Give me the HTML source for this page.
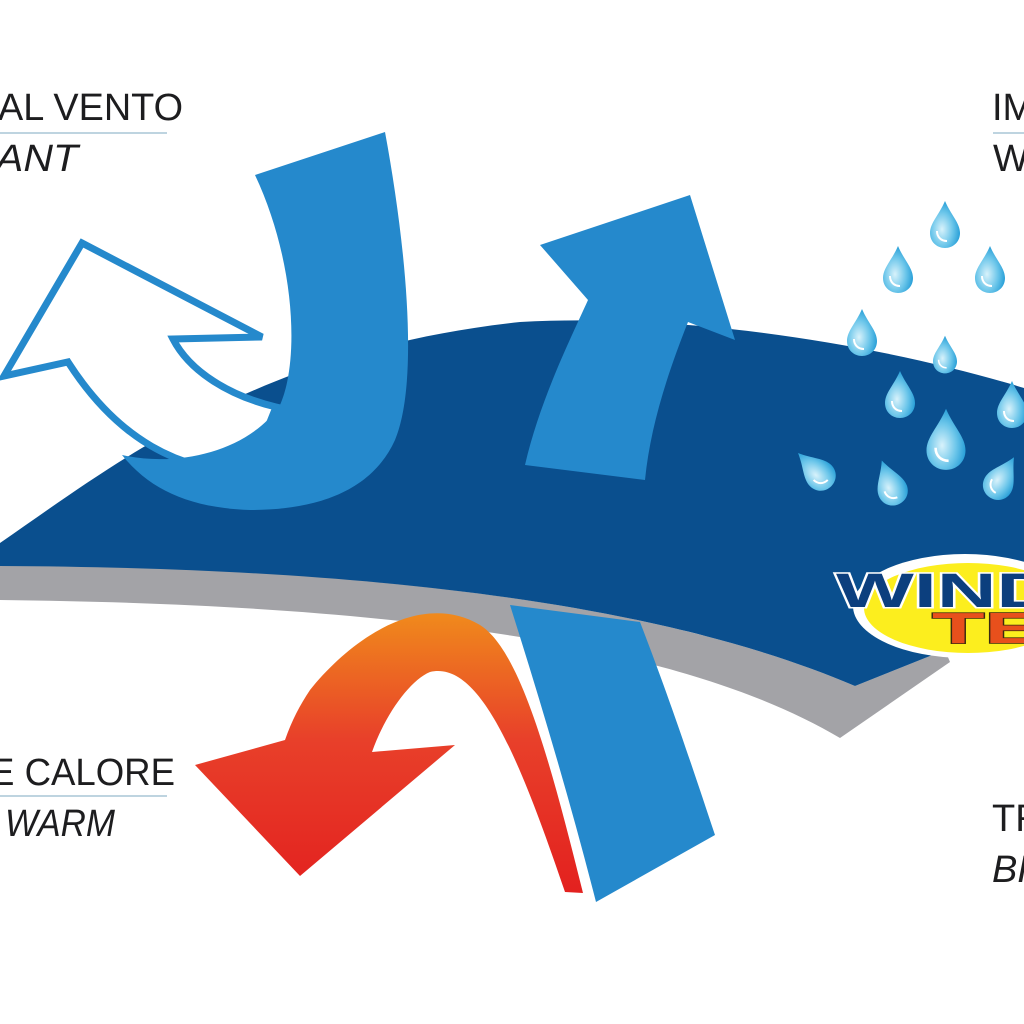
<!DOCTYPE html>
<html><head><style>
html,body{margin:0;padding:0;background:#fff;}
svg{display:block}
text{font-family:"Liberation Sans",sans-serif;fill:#1d1d1f}
</style></head><body>
<svg width="1024" height="1024" viewBox="0 0 1024 1024" xmlns="http://www.w3.org/2000/svg">
<defs>
<linearGradient id="rg" x1="0" y1="0" x2="0" y2="1">
<stop offset="0" stop-color="#f08a1c"/><stop offset="0.45" stop-color="#e8402a"/><stop offset="1" stop-color="#e3211f"/>
</linearGradient>
<radialGradient id="dg" cx="0.4" cy="0.6" r="0.6">
<stop offset="0" stop-color="#d8f2fb"/><stop offset="0.6" stop-color="#6cc6ea"/><stop offset="1" stop-color="#2aa0d8"/>
</radialGradient>
<g id="drop"><path d="M0,-24 C6,-10 15,-2 15,8 C15,17 8,23 0,23 C-8,23 -15,17 -15,8 C-15,-2 -6,-10 0,-24 Z" fill="url(#dg)"/><path d="M-8,6 C-8,12 -4,16 2,16" stroke="#fff" stroke-width="2" fill="none"/></g>
</defs>

<!-- text -->
<text x="-2" y="120" font-size="38" textLength="185" lengthAdjust="spacingAndGlyphs">AL VENTO</text>
<line x1="0" y1="133" x2="167" y2="133" stroke="#a9c6d6" stroke-width="1.5"/>
<text x="-4" y="171" font-size="38" font-style="italic" textLength="82" lengthAdjust="spacingAndGlyphs">ANT</text>
<text x="992" y="120" font-size="38">IM</text>
<line x1="993" y1="133" x2="1024" y2="133" stroke="#a9c6d6" stroke-width="1.5"/>
<text x="993" y="171" font-size="38">W</text>
<text x="-10" y="785" font-size="38" textLength="185" lengthAdjust="spacingAndGlyphs">E CALORE</text>
<line x1="0" y1="796" x2="167" y2="796" stroke="#a9c6d6" stroke-width="1.5"/>
<text x="5" y="836" font-size="38" font-style="italic" textLength="110" lengthAdjust="spacingAndGlyphs">WARM</text>
<text x="992" y="831" font-size="38">TR</text>
<text x="992" y="882" font-size="38" font-style="italic">BR</text>

<!-- fabric -->
<path d="M0,600 C450,605 700,655 840,738 L950,662 L945,650 L855,686 C700,620 450,568 0,565 Z" fill="#a3a3a7"/>
<path d="M0,543 C120,460 260,350 520,322 C700,312 900,350 1024,388 L1024,640 L940,652 L855,686 C700,620 450,568 0,566 Z" fill="#0a4f8e"/>

<!-- white arrow -->
<path d="M82,243 L262,337 L173,339 C190,372 230,396 276,407 L250,472 C180,472 118,440 68,362 L4,376 Z" fill="#fff" stroke="#2589cc" stroke-width="7" stroke-linejoin="miter"/>
<!-- J blue -->
<path d="M255,175 L385,132 C405,240 420,380 395,440 C370,495 310,510 250,510 C190,508 150,490 122,455 C180,468 250,450 280,405 C300,360 295,260 255,175 Z" fill="#2589cc"/>

<!-- up arrow -->
<path d="M525,465 C540,400 570,340 588,300 L540,245 L690,195 L735,340 L688,322 C665,380 650,430 645,480 Z" fill="#2589cc"/>

<!-- lower blue stream -->
<path d="M510,605 L640,622 C670,700 690,760 715,835 L596,902 C570,800 540,700 510,605 Z" fill="#2589cc"/>
<!-- red arrow -->
<path d="M583,893 C550,760 520,650 480,625 C420,590 350,640 310,690 C300,705 292,720 285,740 L195,765 L300,876 L455,745 L372,752 C385,715 410,680 430,672 C480,660 520,760 565,892 Z" fill="url(#rg)"/>

<!-- logo -->
<ellipse cx="965" cy="606" rx="112" ry="52" fill="#fff"/>
<ellipse cx="968" cy="608" rx="104" ry="45" fill="#fcee1e"/>
<text x="836" y="607" font-size="48" font-weight="bold" textLength="220" lengthAdjust="spacingAndGlyphs" style="fill:#0c3f7e;stroke:#fff;stroke-width:3;paint-order:stroke">WIND</text>
<text x="932" y="643" font-size="44" font-weight="bold" textLength="110" lengthAdjust="spacingAndGlyphs" style="fill:#e8501c;stroke:#3a2a10;stroke-width:1.5;paint-order:stroke">TE</text>

<!-- drops -->
<use href="#drop" x="945" y="225"/>
<use href="#drop" x="898" y="270"/>
<use href="#drop" x="990" y="270"/>
<use href="#drop" x="862" y="333"/>
<use href="#drop" x="945" y="355" transform="translate(945,355) scale(0.8) translate(-945,-355)"/>
<use href="#drop" x="900" y="395"/>
<use href="#drop" x="1012" y="405"/>
<use href="#drop" x="946" y="440" transform="translate(946,440) scale(1.3) translate(-946,-440)"/>
<use href="#drop" x="815" y="470" transform="rotate(-45 815 470)"/>
<use href="#drop" x="890" y="483" transform="rotate(-20 890 483)"/>
<use href="#drop" x="1002" y="478" transform="rotate(30 1002 478)"/>
</svg>
</body></html>
